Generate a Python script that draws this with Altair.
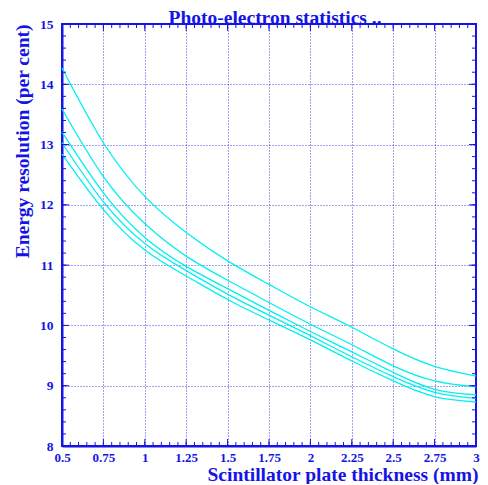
import altair as alt
import pandas as pd

# ---- data ----
thickness = [0.5, 0.75, 1.0, 1.25, 1.5, 1.75, 2.0, 2.25, 2.5, 2.75, 3.0]
curve1 = [14.27, 13.03, 12.14, 11.54, 11.07, 10.68, 10.31, 9.97, 9.61, 9.32, 9.16]
curve2 = [13.59, 12.47, 11.69, 11.15, 10.75, 10.38, 10.02, 9.68, 9.33, 9.08, 8.98]
curve3 = [13.21, 12.20, 11.46, 10.98, 10.61, 10.25, 9.90, 9.56, 9.22, 8.94, 8.85]
curve4 = [13.03, 12.05, 11.36, 10.91, 10.52, 10.17, 9.83, 9.48, 9.15, 8.89, 8.79]
curve5 = [12.84, 11.92, 11.25, 10.82, 10.43, 10.09, 9.76, 9.41, 9.08, 8.82, 8.73]

x_major = [0.5, 0.75, 1.0, 1.25, 1.5, 1.75, 2.0, 2.25, 2.5, 2.75, 3.0]
y_major = [8, 9, 10, 11, 12, 13, 14, 15]
x_minor = [round(0.5 + 0.05 * i, 2) for i in range(51)]
y_minor = [round(8 + 0.2 * i, 1) for i in range(36)]

title_text = "Photo-electron statistics .."
x_title = "Scintillator plate thickness (mm)"
y_title = "Energy resolution (per cent)"

BLUE = "#1414e6"
CYAN = "#00f0f0"
FONT = "Liberation Serif"
W, H = 414, 422
PL, PT, PR, PB = 54, 16, 4, 38

rows = []
for name, ys in [("c1", curve1), ("c2", curve2), ("c3", curve3), ("c4", curve4), ("c5", curve5)]:
    for xv, yv in zip(thickness, ys):
        rows.append({"series": name, "t": xv, "r": yv})
df = pd.DataFrame(rows)

xs = alt.Scale(domain=[0.5, 3.0], nice=False, zero=False)
ys_ = alt.Scale(domain=[8, 15], nice=False, zero=False)

x_axis = alt.Axis(values=x_major, labelExpr="format(datum.value, '~g')", title=x_title,
                  grid=True, ticks=False,
                  gridDash=[1, 2], gridColor=BLUE, gridOpacity=0.8, gridWidth=1,
                  domainColor=BLUE, domainWidth=2,
                  labelFont=FONT, labelFontWeight="bold", labelFontSize=13, labelColor=BLUE,
                  labelPadding=5, labelFlush=False,
                  titleFont=FONT, titleFontWeight="bold", titleFontSize=19.5, titleColor=BLUE,
                  titleAnchor="end", titleAlign="right", titleBaseline="alphabetic",
                  titleX=W + 2, titleY=34)
y_axis = alt.Axis(values=y_major, labelExpr="format(datum.value, 'd')", title=y_title,
                  grid=True, ticks=False,
                  gridDash=[1, 2], gridColor=BLUE, gridOpacity=0.8, gridWidth=1,
                  domainColor=BLUE, domainWidth=2,
                  labelFont=FONT, labelFontWeight="bold", labelFontSize=13.5, labelColor=BLUE,
                  labelPadding=9, labelFlush=False,
                  titleFont=FONT, titleFontWeight="bold", titleFontSize=19.5, titleColor=BLUE,
                  titleAngle=270, titleAlign="right", titleBaseline="alphabetic",
                  titleX=-34, titleY=0)

lines = alt.Chart(df).mark_line(color=CYAN, strokeWidth=1.3, interpolate="natural").encode(
    x=alt.X("t:Q", scale=xs, axis=x_axis),
    y=alt.Y("r:Q", scale=ys_, axis=y_axis),
    detail="series:N",
)

xmaj = pd.DataFrame({"v": x_major})
xmin = pd.DataFrame({"v": x_minor})
ymaj = pd.DataFrame({"v": y_major})
ymin = pd.DataFrame({"v": y_minor})

def xticks(d, L):
    b = alt.Chart(d).mark_rule(color=BLUE, strokeWidth=1).encode(
        x=alt.X("v:Q", scale=xs), y=alt.value(H), y2=alt.value(H - L))
    t = alt.Chart(d).mark_rule(color=BLUE, strokeWidth=1).encode(
        x=alt.X("v:Q", scale=xs), y=alt.value(0), y2=alt.value(L))
    return [b, t]

def yticks(d, L):
    l = alt.Chart(d).mark_rule(color=BLUE, strokeWidth=1).encode(
        y=alt.Y("v:Q", scale=ys_), x=alt.value(0), x2=alt.value(L))
    r = alt.Chart(d).mark_rule(color=BLUE, strokeWidth=1).encode(
        y=alt.Y("v:Q", scale=ys_), x=alt.value(W), x2=alt.value(W - L))
    return [l, r]

title = alt.Chart(pd.DataFrame({"t": [title_text]})).mark_text(
    font=FONT, fontWeight="bold", fontSize=19.5, color=BLUE, baseline="alphabetic", align="center"
).encode(x=alt.value(W / 2 + 6), y=alt.value(-0.5), text="t:N")

layers = [lines] + xticks(xmaj, 7) + xticks(xmin, 4) + yticks(ymaj, 7) + yticks(ymin, 4) + [title]

chart = alt.layer(*layers).properties(
    width=W, height=H,
    autosize=alt.AutoSizeParams(type="none"),
    padding={"left": PL, "top": PT, "right": PR, "bottom": PB},
    background="white",
).configure_view(stroke=BLUE, strokeWidth=2)

chart.save("out.html", embed_options={"renderer": "svg", "actions": False})
